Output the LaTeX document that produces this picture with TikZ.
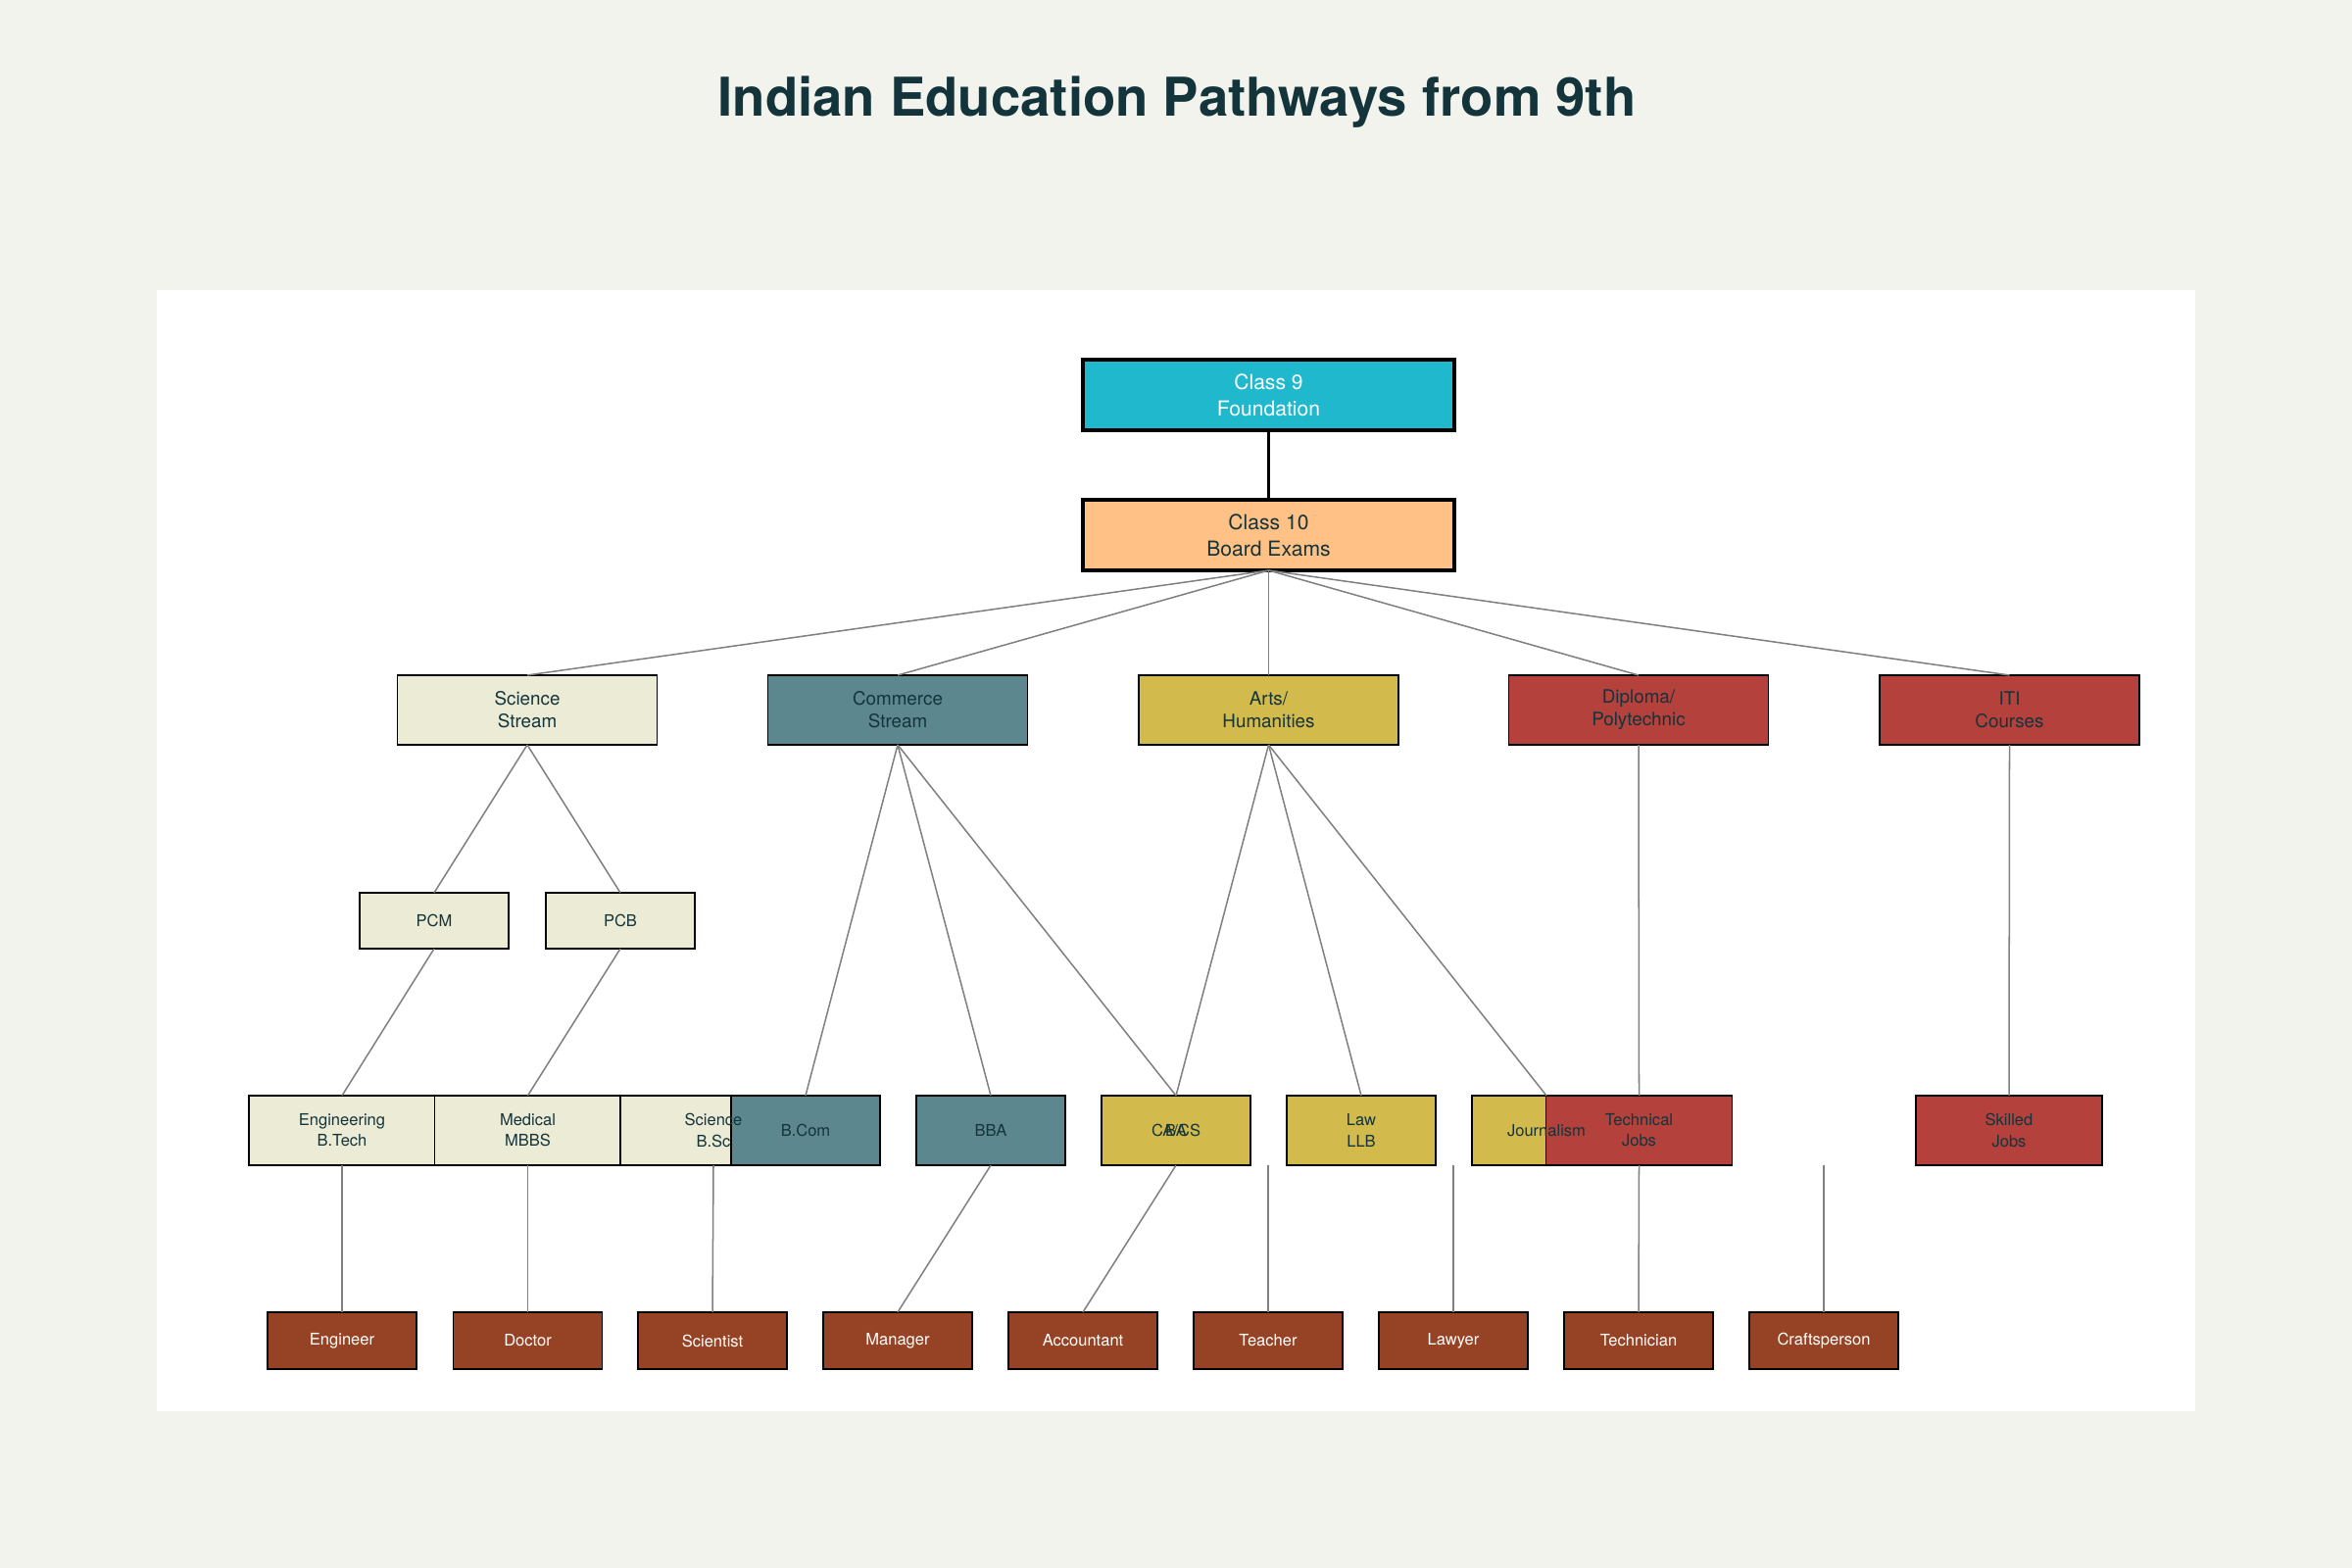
\documentclass[tikz,border=0pt]{standalone}
\usepackage{fontspec}
\setmainfont{TeX Gyre Heros}
\definecolor{cBg}{HTML}{F3F3EE}
\definecolor{cText}{HTML}{13343B}
\definecolor{cNine}{HTML}{1FB8CD}
\definecolor{cTen}{HTML}{FFC185}
\definecolor{cSci}{HTML}{ECEBD5}
\definecolor{cCom}{HTML}{5D878F}
\definecolor{cArt}{HTML}{D2BA4C}
\definecolor{cVoc}{HTML}{B4413C}
\definecolor{cJob}{HTML}{964325}
\definecolor{cLine}{HTML}{808080}
\begin{document}
\begin{tikzpicture}[x=0.01cm,y=-0.01cm,
  box/.style={draw=black, line width=0.45pt, inner sep=0pt, outer sep=0pt, rectangle},
  topbox/.style={box, line width=0.95pt, minimum width=3.79cm, minimum height=0.72cm},
  streambox/.style={box, minimum width=2.65cm, minimum height=0.71cm},
  subbox/.style={box, fill=cSci, minimum width=1.52cm, minimum height=0.57cm},
  widebox/.style={box, minimum width=1.90cm, minimum height=0.71cm},
  narrowbox/.style={box, minimum width=1.52cm, minimum height=0.71cm},
  jobbox/.style={box, fill=cJob, minimum width=1.52cm, minimum height=0.58cm},
  link/.style={draw=cLine, line width=0.43pt},
  mainlink/.style={draw=black, line width=0.95pt},
  ttop/.style={align=center, inner sep=0pt, font=\fontsize{6}{7.6}\selectfont, text=cText},
  tstream/.style={align=center, inner sep=0pt, font=\fontsize{5.35}{6.6}\selectfont, text=cText},
  tsmall/.style={align=center, inner sep=0pt, font=\fontsize{4.7}{6.0}\selectfont, text=cText},
  tjob/.style={tsmall, text=white}
]
% background and panel
\fill[cBg] (0,0) rectangle (2400,1600);
\useasboundingbox (0,0) rectangle (2400,1600);
\fill[white] (160,296) rectangle (2240,1440);
\node[font=\fontsize{15.5}{18}\selectfont\bfseries, text=cText, anchor=base, inner sep=0pt] (title) at (1201,119) {Indian Education Pathways from 9th};

% boxes
\node[topbox, fill=cNine] (c9) at (1294.5,403) {};
\node[topbox, fill=cTen] (c10) at (1294.5,546) {};

\node[streambox, fill=cSci] (sci) at (538,724.5) {};
\node[streambox, fill=cCom] (com) at (916,724.5) {};
\node[streambox, fill=cArt] (art) at (1294.5,724.5) {};
\node[streambox, fill=cVoc] (dip) at (1672,724.5) {};
\node[streambox, fill=cVoc] (iti) at (2050.5,724.5) {};

\node[subbox] (pcm) at (443,939.5) {};
\node[subbox] (pcb) at (633,939.5) {};

\node[widebox, fill=cSci] (eng) at (349,1153.5) {};
\node[widebox, fill=cSci] (med) at (538.5,1153.5) {};
\node[widebox, fill=cSci] (bsc) at (728,1153.5) {};
\node[narrowbox, fill=cCom] (bcom) at (822,1153.5) {};
\node[narrowbox, fill=cCom] (bba) at (1011,1153.5) {};
\node[narrowbox, fill=cArt] (cacs) at (1200,1153.5) {};
\node[narrowbox, fill=cArt] (ba) at (1200,1153.5) {};
\node[narrowbox, fill=cArt] (law) at (1389,1153.5) {};
\node[narrowbox, fill=cArt] (jour) at (1578,1153.5) {};
\node[widebox, fill=cVoc] (tech) at (1672.5,1153.5) {};
\node[widebox, fill=cVoc] (skill) at (2050,1153.5) {};

\node[jobbox] (engr) at (349,1368) {};
\node[jobbox] (doc) at (538.5,1368) {};
\node[jobbox] (scien) at (727,1368) {};
\node[jobbox] (mgr) at (916,1368) {};
\node[jobbox] (acct) at (1105,1368) {};
\node[jobbox] (teach) at (1294,1368) {};
\node[jobbox] (lawyer) at (1483,1368) {};
\node[jobbox] (techn) at (1672,1368) {};
\node[jobbox] (craft) at (1861,1368) {};

\coordinate (freeA) at (1294,1189);
\coordinate (freeB) at (1483,1189);
\coordinate (freeC) at (1861,1189);

% connectors
\draw[mainlink] (c9.south) -- (c10.north);
\foreach \s in {sci,com,art,dip,iti} \draw[link] (c10.south) -- (\s.north);
\draw[link] (sci.south) -- (pcm.north);
\draw[link] (sci.south) -- (pcb.north);
\draw[link] (pcm.south) -- (eng.north);
\draw[link] (pcb.south) -- (med.north);
\draw[link] (com.south) -- (bcom.north);
\draw[link] (com.south) -- (bba.north);
\draw[link] (com.south) -- (cacs.north);
\draw[link] (art.south) -- (ba.north);
\draw[link] (art.south) -- (law.north);
\draw[link] (art.south) -- (jour.north);
\draw[link] (dip.south) -- (tech.north);
\draw[link] (iti.south) -- (skill.north);
\draw[link] (eng.south) -- (engr.north);
\draw[link] (med.south) -- (doc.north);
\draw[link] (bsc.south) -- (scien.north);
\draw[link] (bba.south) -- (mgr.north);
\draw[link] (cacs.south) -- (acct.north);
\draw[link] (freeA) -- (teach.north);
\draw[link] (freeB) -- (lawyer.north);
\draw[link] (tech.south) -- (techn.north);
\draw[link] (freeC) -- (craft.north);

% texts
\node[ttop, text=white] at (c9) {Class 9\\Foundation};
\node[ttop] at (c10) {Class 10\\Board Exams};
\node[tstream] at (sci) {Science\\Stream};
\node[tstream] at (com) {Commerce\\Stream};
\node[tstream] at (art) {Arts/\\Humanities};
\node[tstream] at (dip) {Diploma/\\Polytechnic};
\node[tstream] at (iti) {ITI\\Courses};
\node[tsmall] at (pcm) {PCM};
\node[tsmall] at (pcb) {PCB};
\node[tsmall] at (eng) {Engineering\\B.Tech};
\node[tsmall] at (med) {Medical\\MBBS};
\node[tsmall] at (bsc) {Science\\B.Sc};
\node[tsmall] at (bcom) {B.Com};
\node[tsmall] at (bba) {BBA};
\node[tsmall] at (cacs) {CA/CS};
\node[tsmall] at (ba) {BA};
\node[tsmall] at (law) {Law\\LLB};
\node[tsmall] at (jour) {Journalism};
\node[tsmall] at (tech) {Technical\\Jobs};
\node[tsmall] at (skill) {Skilled\\Jobs};
\node[tjob] at (engr) {Engineer};
\node[tjob] at (doc) {Doctor};
\node[tjob] at (scien) {Scientist};
\node[tjob] at (mgr) {Manager};
\node[tjob] at (acct) {Accountant};
\node[tjob] at (teach) {Teacher};
\node[tjob] at (lawyer) {Lawyer};
\node[tjob] at (techn) {Technician};
\node[tjob] at (craft) {Craftsperson};
\end{tikzpicture}
\end{document}
